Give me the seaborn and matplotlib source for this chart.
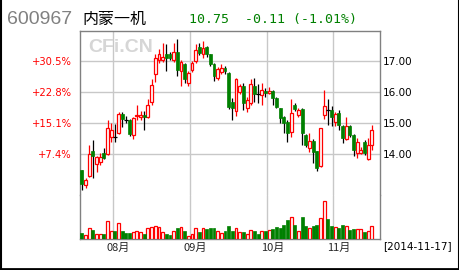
import matplotlib
matplotlib.use("Agg")
import matplotlib.pyplot as plt
from matplotlib.lines import Line2D
import numpy as np
import seaborn as sns

# ---------------- data ----------------
opens = [13.49, 13.00, 13.31, 14.10, 13.70, 13.75, 14.03, 14.00, 14.55, 14.57,
         14.68, 15.30, 15.12, 15.10, 14.62, 15.23, 15.20, 15.27, 15.20, 15.69,
         16.58, 17.03, 17.03, 17.25, 17.22, 17.03, 17.31, 16.70, 16.90, 16.29,
         16.72, 17.01, 17.47, 17.25, 17.45, 17.22, 16.90, 16.47, 16.66, 16.77,
         16.63, 15.70, 15.40, 16.00, 16.21, 15.50, 15.67, 16.21, 15.95, 15.91,
         16.03, 15.97, 16.04, 15.81, 15.48, 15.19, 15.05, 14.73, 15.59, 15.27,
         15.45, 14.62, 14.20, 14.43, 14.10, 13.63, 15.27, 15.43, 15.43, 15.05,
         15.32, 14.90, 14.48, 14.91, 14.62, 14.03, 14.05, 14.41, 13.86, 14.30]
highs = [13.49, 13.23, 14.30, 14.47, 13.95, 14.05, 14.20, 15.10, 15.00, 14.98,
         15.38, 15.38, 15.25, 15.15, 15.20, 15.60, 15.40, 15.40, 15.78, 16.42,
         17.25, 17.39, 17.58, 17.56, 17.30, 17.58, 17.71, 17.04, 16.95, 16.70,
         17.00, 17.55, 17.60, 17.67, 17.50, 17.25, 16.95, 16.82, 16.92, 16.85,
         16.65, 15.82, 16.47, 16.28, 16.30, 15.86, 16.42, 16.45, 16.27, 16.29,
         16.15, 16.18, 16.06, 15.85, 15.50, 15.22, 15.11, 15.77, 15.64, 15.48,
         15.48, 14.65, 14.68, 14.50, 14.12, 14.86, 16.07, 15.80, 15.55, 15.35,
         15.43, 14.95, 15.20, 14.95, 14.65, 14.52, 14.25, 14.45, 14.52, 14.95]
lows = [12.85, 12.90, 13.28, 13.23, 13.44, 13.65, 13.85, 13.98, 14.40, 14.41,
        14.65, 14.88, 15.00, 14.60, 14.50, 15.10, 15.12, 14.78, 15.18, 15.60,
        16.32, 16.95, 16.98, 16.70, 17.05, 16.98, 16.52, 16.20, 16.30, 16.20,
        16.65, 16.95, 17.20, 17.10, 17.15, 16.85, 16.36, 16.40, 16.60, 16.60,
        15.45, 15.10, 15.24, 15.95, 15.43, 15.38, 15.60, 15.70, 15.67, 15.59,
        15.85, 15.95, 15.59, 15.50, 15.00, 14.68, 14.41, 14.57, 15.40, 15.20,
        14.30, 14.25, 14.08, 13.71, 13.47, 13.58, 15.13, 14.95, 14.90, 14.91,
        14.79, 14.35, 14.45, 14.55, 13.94, 13.87, 14.00, 13.98, 13.83, 14.14]
closes = [13.04, 13.17, 14.00, 13.95, 13.92, 13.92, 13.89, 14.84, 14.78, 14.57,
          15.30, 15.15, 15.12, 14.67, 15.16, 15.27, 15.26, 15.19, 15.60, 16.23,
          17.10, 17.25, 17.14, 17.12, 17.12, 17.31, 16.71, 16.99, 16.42, 16.63,
          16.93, 17.36, 17.28, 17.44, 17.22, 16.90, 16.54, 16.74, 16.77, 16.69,
          15.52, 15.48, 16.42, 16.21, 15.67, 15.76, 16.27, 15.96, 15.95, 16.07,
          15.99, 16.04, 15.81, 15.54, 15.16, 15.00, 14.68, 15.32, 15.45, 15.43,
          14.68, 14.30, 14.43, 14.08, 13.55, 14.84, 15.56, 15.43, 15.20, 15.30,
          14.95, 14.52, 14.91, 14.62, 14.14, 14.41, 14.14, 14.03, 14.30, 14.79]
volumes = [20, 13, 33, 28, 15, 15, 15, 55, 25, 25,
           48, 25, 19, 19, 21, 25, 23, 16, 33, 36,
           41, 38, 21, 16, 13, 25, 35, 36, 25, 11,
           16, 33, 23, 33, 30, 33, 34, 25, 20, 25,
           40, 25, 33, 21, 21, 15, 28, 25, 16, 25,
           25, 28, 30, 37, 33, 43, 58, 66, 43, 25,
           67, 40, 33, 41, 43, 63, 115, 61, 40, 36,
           35, 43, 40, 28, 30, 30, 30, 23, 25, 40]
month_labels = ["08月", "09月", "10月", "11月"]
month_start_idx = [9, 30, 51, 69]
price_ticks = [14, 15, 16, 17]
base_price = 13.03
stock_code = "600967"
stock_name = "内蒙一机"
quote_text = "10.75  -0.11 (-1.01%)"
date_text = "[2014-11-17]"

# ---------------- style ----------------
sns.set_style("white")
plt.rcParams["font.family"] = ["DejaVu Sans", "Noto Sans CJK SC"]

W, H = 460, 270
fig = plt.figure(figsize=(W / 100, H / 100), dpi=100)
fig.patch.set_facecolor("white")

def fx(px):
    return px / W

def fy(py):
    return (H - py) / H

L_PX, R_PX, T_PX, MID_PX, B_PX = 80, 380, 31, 195, 239.3
ax = fig.add_axes([fx(L_PX), fy(MID_PX), fx(R_PX - L_PX), (MID_PX - T_PX) / H])
axv = fig.add_axes([fx(L_PX), fy(B_PX), fx(R_PX - L_PX), (B_PX - MID_PX) / H], sharex=ax)

O = np.array(opens); Hh = np.array(highs); Lw = np.array(lows); C = np.array(closes)
V = np.array(volumes)
n = len(O)
x = np.arange(n)
up = C > O
down = C < O
doji = ~(up | down)

RED = "#ff0000"
GREEN = "#008000"
GRID = "#c8c8c8"
FRAME = "#808080"

# gridlines
bounds = np.array(month_start_idx) - 0.5
for a in (ax, axv):
    for b in bounds:
        a.axvline(b, color=GRID, lw=1.0, zorder=0.6)
for t in price_ticks:
    ax.axhline(t, color=GRID, lw=1.0, zorder=0.6)

# watermark
ax.text((88 - L_PX) / (R_PX - L_PX), 1 - (48 - T_PX) / (MID_PX - T_PX), "CFi.CN",
        transform=ax.transAxes, ha="left", va="center", fontsize=14, fontweight="bold",
        family="Liberation Sans", color="#d6d6d6", zorder=0.7)

# candles
bw = 0.78
body_lo = np.minimum(O, C)
body_hi = np.maximum(O, C)
ax.vlines(x[up], Lw[up], Hh[up], color=RED, lw=0.9, zorder=2)
ax.vlines(x[down], Lw[down], Hh[down], color="black", lw=0.9, zorder=2)
ax.vlines(x[doji], Lw[doji], Hh[doji], color="black", lw=0.9, zorder=2)
ax.bar(x[up], (body_hi - body_lo)[up], bottom=body_lo[up], width=bw,
       facecolor="white", edgecolor=RED, linewidth=0.9, zorder=3)
ax.bar(x[down], (body_hi - body_lo)[down], bottom=body_lo[down], width=bw,
       facecolor=GREEN, edgecolor=GREEN, linewidth=0.5, zorder=3)
ax.hlines(C[doji], x[doji] - bw / 2 - 0.1, x[doji] + bw / 2 + 0.1, color="black", lw=0.9, zorder=3)

# volume bars
vup = C > O
vdn = ~vup
axv.bar(x[vup], V[vup], width=bw, facecolor="white", edgecolor=RED, linewidth=0.9, zorder=3)
axv.bar(x[vdn], V[vdn], width=bw, facecolor=GREEN, edgecolor=GREEN,
        linewidth=0.5, zorder=3)

# limits
ax.set_xlim(-0.5, 81.2)
ax.set_ylim(14 + (154.3 - MID_PX) / 31, 14 + (154.3 - T_PX) / 31)
axv.set_ylim(0, 133)

# spines
for a in (ax, axv):
    for s in a.spines.values():
        s.set_color(FRAME)
        s.set_linewidth(1.0)
ax.spines["bottom"].set_visible(False)
axv.spines["top"].set_visible(False)

# price ticks right
ax.yaxis.tick_right()
ax.set_yticks(price_ticks)
ax.set_yticklabels([f"{t:.2f}" for t in price_ticks], fontsize=7.5, color="black")
ax.tick_params(axis="y", length=0, pad=2)
ax.tick_params(axis="x", bottom=False, labelbottom=False, length=0)

# percentage ticks left
sec = ax.secondary_yaxis("left", functions=(lambda p: (p / base_price - 1) * 100,
                                            lambda q: base_price * (1 + q / 100)))
pct_vals = [(t / base_price - 1) * 100 for t in price_ticks]
sec.set_yticks(pct_vals)
sec.set_yticklabels([f"+{v:.1f}%" for v in pct_vals], fontsize=7.2, color=RED)
sec.tick_params(length=0, pad=6)
sec.spines["left"].set_visible(False)

# volume axis
axv.set_yticks([])
axv.set_xticks(np.array(month_start_idx) - 0.5 + 1.4)
axv.set_xticklabels(month_labels, fontsize=8, family=["Noto Sans CJK SC", "DejaVu Sans"])
axv.tick_params(axis="x", length=0, pad=2.5)
ax.grid(False); axv.grid(False)

# header texts
fig.text(fx(7), fy(19), stock_code, ha="left", va="center", fontsize=14,
         family="Liberation Sans", color="#808080")
fig.text(fx(82), fy(19), stock_name, ha="left", va="center", fontsize=11.5,
         family=["Noto Sans CJK SC", "DejaVu Sans"], color="black")
fig.text(fx(189), fy(19), quote_text, ha="left", va="center", fontsize=9.5,
         family="DejaVu Sans Mono", color=GREEN)
fig.text(fx(383), fy(246), date_text, ha="left", va="center", fontsize=7.5, color="black")

# outer frame
for (xs, ys, lw) in [([fx(0.5), fx(0.5)], [0, 1], 1.5),
                     ([fx(459), fx(459)], [0, 1], 1.5),
                     ([0, 1], [fy(268.8), fy(268.8)], 2.0)]:
    fig.add_artist(Line2D(xs, ys, color="black", lw=lw, transform=fig.transFigure))

fig.savefig("out.png", dpi=100)
